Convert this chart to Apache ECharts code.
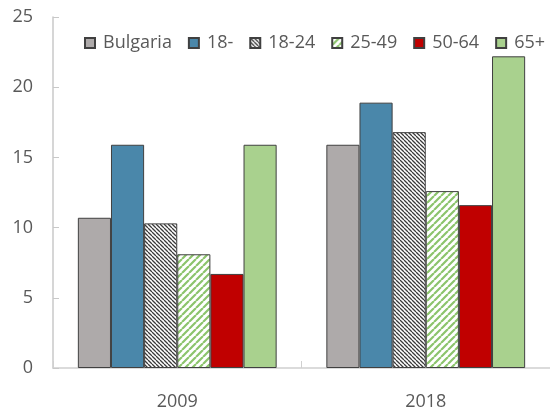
<!DOCTYPE html>
<html>
<head>
<meta charset="utf-8">
<script src="https://cdn.jsdelivr.net/npm/echarts@6/dist/echarts.min.js"></script>
<style>
html,body{margin:0;padding:0;background:#fff;}
#c{width:550px;height:411px;}
</style>
</head>
<body>
<div id="c"></div>
<script>
const categories = ['2009', '2018'];
const seriesNames = ['Bulgaria', '18-', '18-24', '25-49', '50-64', '65+'];
const bulgaria = [10.7, 15.9];
const age18minus = [15.9, 18.9];
const age18to24 = [10.3, 16.8];
const age25to49 = [8.1, 12.6];
const age50to64 = [6.7, 11.6];
const age65plus = [15.9, 22.2];
const yTicks = [0, 5, 10, 15, 20, 25];

function hatch(dir, lineColor, lw, size) {
  const cv = document.createElement('canvas');
  cv.width = size; cv.height = size;
  const g = cv.getContext('2d');
  g.fillStyle = '#ffffff';
  g.fillRect(0, 0, size, size);
  g.strokeStyle = lineColor;
  g.lineWidth = lw;
  g.beginPath();
  for (let k = -1; k <= 1; k++) {
    if (dir === 'back') {
      g.moveTo(k * size, 0); g.lineTo(k * size + size, size);
    } else {
      g.moveTo(k * size, size); g.lineTo(k * size + size, 0);
    }
  }
  g.stroke();
  return cv;
}

const fills = [
  '#AEAAAA',
  '#4A87AA',
  { image: hatch('back', '#3a3a3a', 1.3, 4), repeat: 'repeat' },
  { image: hatch('fwd', '#8CC46C', 2.2, 7), repeat: 'repeat' },
  '#C00000',
  '#A9D18E'
];
const values = [bulgaria, age18minus, age18to24, age25to49, age50to64, age65plus];

const chart = echarts.init(document.getElementById('c'));
chart.setOption({
  animation: false,
  textStyle: { fontFamily: 'Open Sans' },
  legend: {
    top: 29,
    left: 79,
    width: 540,
    itemWidth: 10,
    itemHeight: 10,
    itemGap: 16,
    icon: 'rect',
    textStyle: { fontSize: 18, color: '#595959', fontFamily: 'Open Sans', padding: [0, 0, 0, 3] },
    data: seriesNames
  },
  grid: { left: 53, right: -7, top: 17, bottom: 43, containLabel: false },
  xAxis: {
    type: 'category',
    data: categories,
    axisLine: { lineStyle: { color: '#d0d0d0', width: 1.5 } },
    axisTick: { show: true, inside: true, length: 7, lineStyle: { color: '#d0d0d0' } },
    axisLabel: { fontSize: 18, color: '#595959', margin: 25 }
  },
  yAxis: {
    type: 'value',
    min: 0, max: 25, interval: 5,
    axisLine: { show: true, lineStyle: { color: '#c8c8c8', width: 1.5 } },
    axisTick: { show: true, inside: true, length: 6, lineStyle: { color: '#c8c8c8' } },
    splitLine: { show: false },
    axisLabel: { fontSize: 18, color: '#595959', margin: 20,
      formatter: v => yTicks.includes(v) ? String(v) : '' }
  },
  series: seriesNames.map((n, i) => ({
    name: n,
    type: 'bar',
    data: values[i],
    barGap: '0%',
    barCategoryGap: '20%',
    itemStyle: { color: fills[i], borderColor: '#404040', borderWidth: 1 }
  }))
});
</script>
</body>
</html>
